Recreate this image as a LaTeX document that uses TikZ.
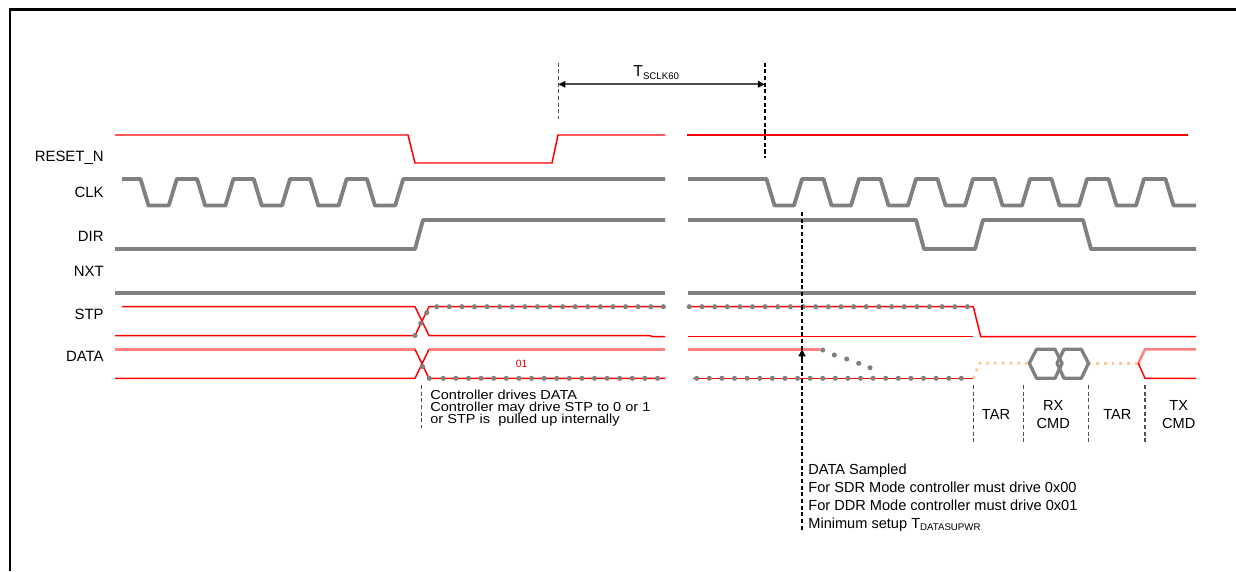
\documentclass[tikz,border=0pt]{standalone}
\usepackage{fontspec}
\setmainfont{Liberation Sans}
\newfontfamily\widefont{Liberation Sans}[FakeStretch=1.12]
\usetikzlibrary{arrows.meta}

\definecolor{wavegray}{HTML}{808080}
\definecolor{sigpink}{HTML}{FF8080}
\definecolor{tristate}{HTML}{FFC890}
\definecolor{guidegray}{HTML}{505050}

% small lowered index text
\newcommand{\lowsub}[1]{{\fontsize{5.5}{6}\selectfont\raisebox{-1.5pt}{#1}}}

\begin{document}
\begin{tikzpicture}[x=0.02cm, y=-0.02cm,
    wave/.style={draw=wavegray, line width=2.2pt, line join=round},
    redline/.style={draw=red, line width=0.85pt},
    pinkline/.style={draw=sigpink, line width=1.4pt},
    hiz/.style={draw=tristate, line width=1.5pt, dash pattern=on 1.5pt off 2.9pt},
    guide/.style={draw=guidegray, line width=0.75pt, dash pattern=on 2.3pt off 1.5pt},
    marker/.style={draw=black, line width=0.75pt, dash pattern=on 2.3pt off 1.5pt},
    sig/.style={anchor=base east, inner sep=0pt, font=\fontsize{8.5}{10}\selectfont},
    note/.style={anchor=base west, inner sep=0pt, font=\fontsize{8.3}{10}\selectfont},
    tightnote/.style={anchor=base west, inner sep=0pt, font=\widefont\fontsize{7.4}{8}\selectfont},
    phase/.style={anchor=base, inner sep=0pt, font=\fontsize{8.3}{10}\selectfont}]
    % Signal levels
    \def\clkhi{179}
    \def\clklo{205.5}
    \def\dirhi{220}
    \def\dirlo{249}
    \def\nxtlo{292.7}
    \def\stphi{306.7}
    \def\stplo{335.5}
    \def\datahi{349.3}
    \def\datalo{378.3}

    \useasboundingbox (0,0) rectangle (1236,571);

    % Frame
    \draw[line width=1.7pt] (10,571) -- (10,9.5) -- (1236,9.5);

    % Signal names
    \foreach \name/\y [count=\i] in {RESET\_N/161.5, CLK/197.3, DIR/241, NXT/276.7, STP/319.3, DATA/361.7}
        \node[sig] (lbl\i) at (104,\y) {\name};

    % Reset time
    \coordinate (sclkA) at (558.3,84.3);
    \coordinate (sclkB) at (765,84.3);
    \draw[guide] (558.3,62.7) -- (558.3,119.3);
    \draw[marker] (765,62.7) -- (765,158);
    \draw[draw=gray!60!black, line width=1.2pt,
        {Triangle[length=4pt,width=3.6pt,color=black]}-{Triangle[length=4pt,width=3.6pt,color=black]}]
        (sclkA) -- (sclkB);
    \node[anchor=base west, inner sep=0pt, font=\fontsize{9}{10}\selectfont] (tsclk) at (633,76.7) {T\lowsub{SCLK60}};

    % RESET_N
    \draw[redline] (115,135) -- (408,135) -- (415,163) -- (552,163) -- (558,135) -- (665,135);
    \draw[redline] (687,135) -- (1188,135);

    % CLK
    \draw[wave] (122,\clkhi)
        \foreach \k in {0,...,4} {
            -- ({140.5+56.6*\k},\clkhi) -- ({148.5+56.6*\k},\clklo)
            -- ({168.8+56.6*\k},\clklo) -- ({176.8+56.6*\k},\clkhi)
        } -- (665,\clkhi);
    \draw[wave] (688,\clkhi)
        \foreach \k in {0,...,6} {
            -- ({766.5+57*\k},\clkhi) -- ({774.5+57*\k},\clklo)
            -- ({794+57*\k},\clklo) -- ({802+57*\k},\clkhi)
        } -- (1165.5,\clkhi) -- (1173.5,\clklo) -- (1196,\clklo);

    % DIR
    \draw[wave] (115,\dirlo) -- (415,\dirlo) -- (423,\dirhi) -- (665,\dirhi);
    \draw[wave] (688,\dirhi) -- (916,\dirhi) -- (924,\dirlo) -- (975,\dirlo) -- (983,\dirhi)
        -- (1083,\dirhi) -- (1091,\dirlo) -- (1196,\dirlo);

    % NXT
    \draw[wave] (115,\nxtlo) -- (665,\nxtlo);
    \draw[wave] (688,\nxtlo) -- (1196,\nxtlo);

    % STP
    \draw[redline] (122,\stphi) -- (415,\stphi) -- (429,\stplo) -- (650,\stplo) -- (652,336.5) -- (665,336.5);
    \draw[redline] (115,\stplo) -- (415,\stplo) -- (429,\stphi) -- (665,\stphi);
    \draw[redline] (688,\stphi) -- (973.3,\stphi) -- (980.7,336.5) -- (1196,336.5);
    \draw[redline] (688,336.5) -- (973.3,336.5);

    % DATA
    \draw[pinkline] (115,\datahi) -- (415,\datahi);
    \draw[redline] (415,\datahi) -- (429,\datalo) -- (665,\datalo);
    \draw[redline] (115,\datalo) -- (415,\datalo) -- (429,\datahi);
    \draw[pinkline] (429,\datahi) -- (665,\datahi);
    \node[inner sep=0pt, text=red!85!black, font=\fontsize{6}{7}\selectfont] (val01) at (521.7,364) {01};
    \draw[pinkline] (688,\datahi) -- (820,\datahi);
    \draw[redline] (693,\datalo) -- (973.3,\datalo);
    \draw[hiz] (973.3,\datalo) -- (979.3,363.3) -- (1029.3,363.3);
    \draw[hiz] (1088.5,363.3) -- (1138.3,363.3);
    \draw[wave, line width=1.9pt] (1029.3,363.3) -- (1036.5,\datahi) -- (1055,\datahi) -- (1062,363.3)
        -- (1055,\datalo) -- (1036.5,\datalo) -- cycle;
    \draw[wave, line width=1.9pt] (1057,363.3) -- (1064,\datahi) -- (1081.3,\datahi) -- (1088.5,363.3)
        -- (1081.3,\datalo) -- (1064,\datalo) -- cycle;
    \draw[pinkline] (1138.3,363.3) -- (1145,\datahi) -- (1196,\datahi);
    \draw[redline] (1138.3,363.3) -- (1145,\datalo) -- (1196,\datalo);

    % Sample dots (controller driven)
    \fill[wavegray] (415,\stplo) circle (1.45pt);
    \fill[wavegray] (420.7,323.3) circle (1.45pt);
    \fill[wavegray] (426.7,312.7) circle (1.45pt);
    \foreach \n in {0,...,18}
        \fill[wavegray] ({436.7+12.59*\n},\stphi) circle (1.45pt);
    \fill[wavegray] (422.7,366.7) circle (1.45pt);
    \fill[wavegray] (429.3,\datalo) circle (1.45pt);
    \foreach \n in {0,...,17}
        \fill[wavegray] ({443.3+12.6*\n},\datalo) circle (1.45pt);
    \foreach \n in {0,...,22}
        \fill[wavegray] ({689.3+12.64*\n},\stphi) circle (1.45pt);
    \foreach \n in {0,...,21}
        \fill[wavegray] ({696.7+12.6*\n},\datalo) circle (1.45pt);
    \foreach \x/\y in {822.7/350, 834.3/355, 846.7/359, 858.7/363.3, 870/367.7}
        \fill[wavegray] (\x,\y) circle (1.45pt);

    % Controller note
    \draw[guide] (421.7,385) -- (421.7,428);
    \foreach \txt [count=\i] in {Controller drives DATA, Controller may drive STP to 0 or 1, or STP is\ \ pulled up internally}
        \node[tightnote] (ctrl\i) at (430,{399.5+12*(\i-1)}) {\txt};

    % Sampling point
    \coordinate (smpA) at (802,362);
    \coordinate (smpB) at (802,349.3);
    \draw[marker] (802,212) -- (802,532);
    \draw[line width=0.75pt, -{Triangle[length=4pt,width=4pt]}] (smpA) -- (smpB);
    \foreach \txt [count=\i] in {DATA Sampled, For SDR Mode controller must drive 0x00, For DDR Mode controller must drive 0x01, Minimum setup T\lowsub{DATASUPWR}}
        \node[note] (smp\i) at (808,{474.3+18*(\i-1)}) {\txt};

    % Turnaround phases
    \foreach \x in {973.3, 1023.3, 1088.3, 1145}
        \draw[guide] (\x,385) -- (\x,441.7);
    \node[phase] (tar1) at (996,419.3) {TAR};
    \node[phase] (rx) at (1053.3,410.7) {RX};
    \node[phase] (rxcmd) at (1053.3,428.3) {CMD};
    \node[phase] (tar2) at (1117.3,419.3) {TAR};
    \node[phase] (tx) at (1178.7,410.7) {TX};
    \node[phase] (txcmd) at (1178.7,428.3) {CMD};
\end{tikzpicture}
\end{document}
